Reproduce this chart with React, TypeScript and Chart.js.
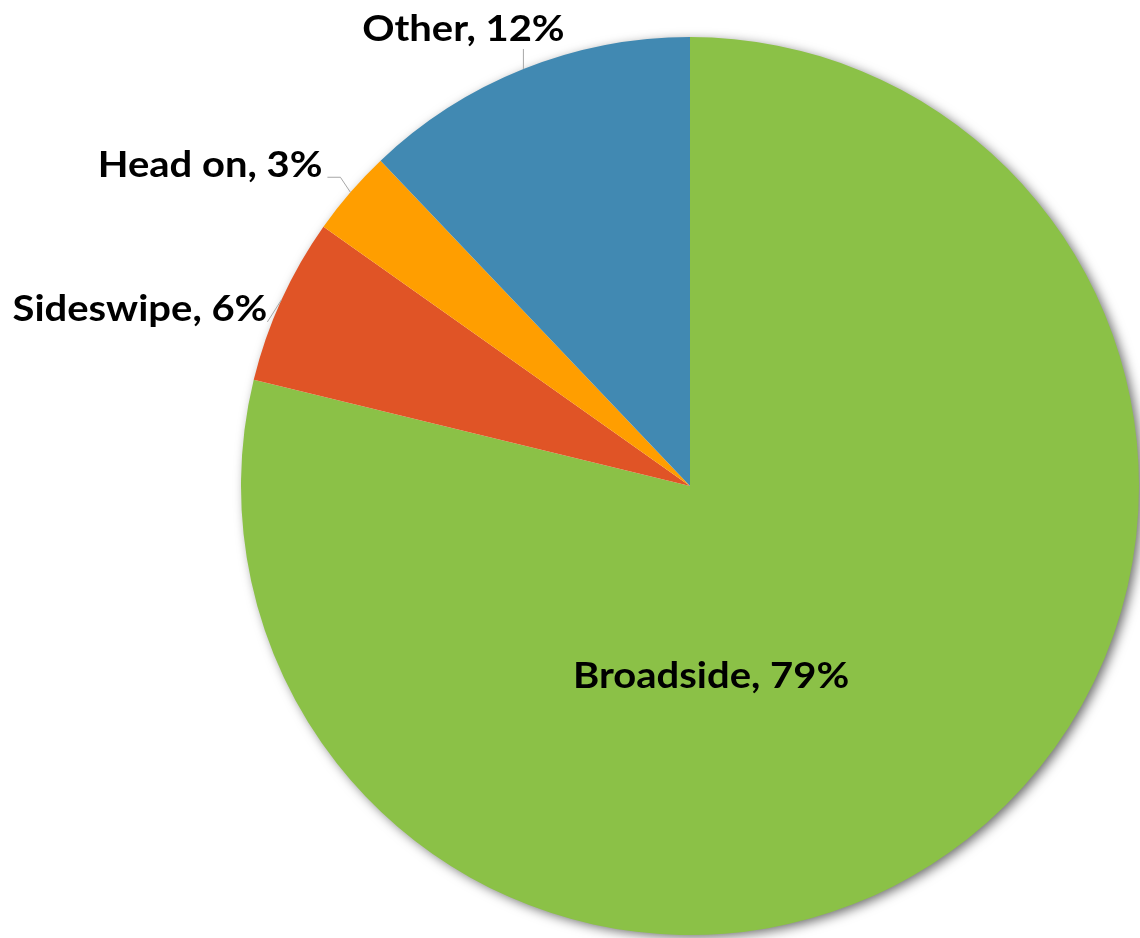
import React, { useEffect, useRef } from "react";
import { Chart, registerables } from "chart.js";

Chart.register(...registerables);

const categories = ["Broadside", "Sideswipe", "Head on", "Other"];
const shares = [78.8, 6.0, 3.1, 12.1];
const colors = ["#8BC147", "#E05426", "#FF9E00", "#4189B2"];

// label placement relative to each slice (px offsets from the outer mid-angle point)
const labelLayout = [
  { inside: true, dx: 0.047, dy: 0.45, align: "center" },
  { inside: false, line: [[-14, 22]], tx: -14, ty: 21, align: "right" },
  { inside: false, line: [[-10, -15], [-23, -15]], tx: -28, ty: -15, align: "right" },
  { inside: false, line: [[0, -20]], tx: -60, ty: -28, align: "center" },
];

const FONT = 'bold 36px "Lato", "Open Sans", sans-serif';
const STRETCH = 1.11;

const shadowPlugin = {
  id: "pieShadow",
  beforeDatasetsDraw(chart: any) {
    const meta = chart.getDatasetMeta(0);
    const arc = meta.data[0];
    if (!arc) return;
    const { x, y, outerRadius } = arc.getProps(["x", "y", "outerRadius"], true);
    const ctx = chart.ctx;
    ctx.save();
    ctx.shadowColor = "rgba(0,0,0,0.6)";
    ctx.shadowBlur = 12;
    ctx.shadowOffsetX = 4;
    ctx.shadowOffsetY = 3;
    ctx.fillStyle = "#ffffff";
    ctx.beginPath();
    ctx.arc(x, y, outerRadius - 1, 0, Math.PI * 2);
    ctx.fill();
    ctx.restore();
  },
};

function drawText(ctx: any, text: string, x: number, y: number, align: string) {
  ctx.save();
  ctx.translate(x, y);
  ctx.scale(STRETCH, 1);
  ctx.textAlign = align;
  ctx.fillText(text, 0, 0);
  ctx.restore();
}

const labelPlugin = {
  id: "pieLabels",
  afterDatasetsDraw(chart: any) {
    const meta = chart.getDatasetMeta(0);
    const ctx = chart.ctx;
    const total = shares.reduce((a, b) => a + b, 0);
    ctx.save();
    ctx.font = FONT;
    ctx.fillStyle = "#000000";
    ctx.textBaseline = "alphabetic";
    meta.data.forEach((arc: any, i: number) => {
      const { x, y, startAngle, endAngle, outerRadius } = arc.getProps(
        ["x", "y", "startAngle", "endAngle", "outerRadius"],
        true
      );
      const text = `${categories[i]}, ${Math.round((shares[i] / total) * 100)}%`;
      const lay: any = labelLayout[i];
      if (lay.inside) {
        drawText(ctx, text, x + lay.dx * outerRadius, y + lay.dy * outerRadius, lay.align);
        return;
      }
      const mid = (startAngle + endAngle) / 2;
      const ex = x + Math.cos(mid) * outerRadius;
      const ey = y + Math.sin(mid) * outerRadius;
      ctx.save();
      ctx.strokeStyle = "#A6A6A6";
      ctx.lineWidth = 1;
      ctx.beginPath();
      ctx.moveTo(ex, ey);
      lay.line.forEach((p: number[]) => ctx.lineTo(ex + p[0], ey + p[1]));
      ctx.stroke();
      ctx.restore();
      drawText(ctx, text, ex + lay.tx, ey + lay.ty, lay.align);
    });
    ctx.restore();
  },
};

export default function App() {
  const ref = useRef<HTMLCanvasElement | null>(null);
  useEffect(() => {
    if (!ref.current) return;
    const chart = new Chart(ref.current, {
      type: "pie",
      data: {
        labels: categories,
        datasets: [
          {
            data: shares,
            backgroundColor: colors,
            borderWidth: 0,
          },
        ],
      },
      options: {
        responsive: false,
        animation: false,
        devicePixelRatio: 1,
        layout: { padding: { left: 241, right: 1, top: 37, bottom: 3 } },
        plugins: {
          legend: { display: false },
          tooltip: { enabled: false },
        },
      },
      plugins: [shadowPlugin, labelPlugin],
    });
    return () => chart.destroy();
  }, []);
  return (
    <div style={{ position: "absolute", left: 0, top: 0, width: 1140, height: 938, background: "#ffffff" }}>
      <canvas ref={ref} width={1140} height={938} />
    </div>
  );
}
